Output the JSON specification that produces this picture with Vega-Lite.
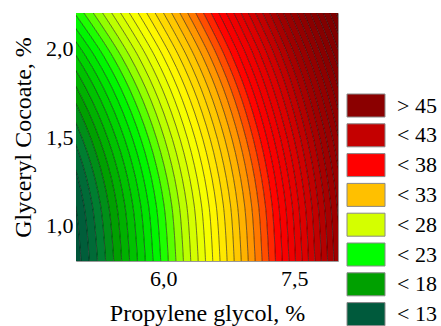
{
 "$schema": "https://vega.github.io/schema/vega-lite/v6.json",
 "width": 262,
 "height": 248,
 "autosize": {"type": "none"},
 "padding": {"left": 76, "top": 13, "right": 103, "bottom": 65},
 "background": "white",
 "config": {
  "view": {"stroke": "#999999", "strokeWidth": 1},
  "font": "Liberation Serif",
  "legend": {"labelFont": "Liberation Serif"},
  "axis": {"labelFont": "Liberation Serif", "titleFont": "Liberation Serif", "labelColor": "black", "titleColor": "black", "titleFontWeight": "normal", "ticks": false, "domain": false, "grid": false}
 },
 "datasets": {
  "cats": [{"cat": "> 45"}, {"cat": "< 43"}, {"cat": "< 38"}, {"cat": "< 33"}, {"cat": "< 28"}, {"cat": "< 23"}, {"cat": "< 18"}, {"cat": "< 13"}],
  "lines": [
   {"v":11,"y":0.8,"x":3.5},{"v":11,"y":1.116,"x":3.5},{"v":11,"y":1.411,"x":3.5},{"v":11,"y":1.707,"x":3.5},{"v":11,"y":1.953,"x":3.5},{"v":11,"y":2.2,"x":3.5},
   {"v":12,"y":0.8,"x":5.057},{"v":12,"y":1.116,"x":4.994},{"v":12,"y":1.411,"x":4.833},{"v":12,"y":1.707,"x":4.555},{"v":12,"y":1.953,"x":4.212},{"v":12,"y":2.2,"x":3.724},
   {"v":13,"y":0.8,"x":5.152},{"v":13,"y":1.116,"x":5.091},{"v":13,"y":1.411,"x":4.934},{"v":13,"y":1.707,"x":4.663},{"v":13,"y":1.953,"x":4.334},{"v":13,"y":2.2,"x":3.869},
   {"v":14,"y":0.8,"x":5.246},{"v":14,"y":1.116,"x":5.187},{"v":14,"y":1.411,"x":5.033},{"v":14,"y":1.707,"x":4.771},{"v":14,"y":1.953,"x":4.452},{"v":14,"y":2.2,"x":4.007},
   {"v":15,"y":0.8,"x":5.339},{"v":15,"y":1.116,"x":5.281},{"v":15,"y":1.411,"x":5.131},{"v":15,"y":1.707,"x":4.876},{"v":15,"y":1.953,"x":4.567},{"v":15,"y":2.2,"x":4.140},
   {"v":16,"y":0.8,"x":5.432},{"v":16,"y":1.116,"x":5.374},{"v":16,"y":1.411,"x":5.228},{"v":16,"y":1.707,"x":4.981},{"v":16,"y":1.953,"x":4.681},{"v":16,"y":2.2,"x":4.270},
   {"v":17,"y":0.8,"x":5.523},{"v":17,"y":1.116,"x":5.467},{"v":17,"y":1.411,"x":5.324},{"v":17,"y":1.707,"x":5.082},{"v":17,"y":1.953,"x":4.792},{"v":17,"y":2.2,"x":4.395},
   {"v":18,"y":0.8,"x":5.614},{"v":18,"y":1.116,"x":5.559},{"v":18,"y":1.411,"x":5.419},{"v":18,"y":1.707,"x":5.183},{"v":18,"y":1.953,"x":4.900},{"v":18,"y":2.2,"x":4.518},
   {"v":19,"y":0.8,"x":5.704},{"v":19,"y":1.116,"x":5.650},{"v":19,"y":1.411,"x":5.514},{"v":19,"y":1.707,"x":5.284},{"v":19,"y":1.953,"x":5.009},{"v":19,"y":2.2,"x":4.638},
   {"v":20,"y":0.8,"x":5.794},{"v":20,"y":1.116,"x":5.741},{"v":20,"y":1.411,"x":5.607},{"v":20,"y":1.707,"x":5.382},{"v":20,"y":1.953,"x":5.115},{"v":20,"y":2.2,"x":4.755},
   {"v":21,"y":0.8,"x":5.882},{"v":21,"y":1.116,"x":5.830},{"v":21,"y":1.411,"x":5.698},{"v":21,"y":1.707,"x":5.479},{"v":21,"y":1.953,"x":5.218},{"v":21,"y":2.2,"x":4.868},
   {"v":22,"y":0.8,"x":5.970},{"v":22,"y":1.116,"x":5.919},{"v":22,"y":1.411,"x":5.791},{"v":22,"y":1.707,"x":5.575},{"v":22,"y":1.953,"x":5.321},{"v":22,"y":2.2,"x":4.981},
   {"v":23,"y":0.8,"x":6.057},{"v":23,"y":1.116,"x":6.008},{"v":23,"y":1.411,"x":5.881},{"v":23,"y":1.707,"x":5.670},{"v":23,"y":1.953,"x":5.421},{"v":23,"y":2.2,"x":5.090},
   {"v":24,"y":0.8,"x":6.144},{"v":24,"y":1.116,"x":6.096},{"v":24,"y":1.411,"x":5.971},{"v":24,"y":1.707,"x":5.765},{"v":24,"y":1.953,"x":5.521},{"v":24,"y":2.2,"x":5.198},
   {"v":25,"y":0.8,"x":6.230},{"v":25,"y":1.116,"x":6.182},{"v":25,"y":1.411,"x":6.060},{"v":25,"y":1.707,"x":5.858},{"v":25,"y":1.953,"x":5.619},{"v":25,"y":2.2,"x":5.305},
   {"v":26,"y":0.8,"x":6.314},{"v":26,"y":1.116,"x":6.268},{"v":26,"y":1.411,"x":6.148},{"v":26,"y":1.707,"x":5.949},{"v":26,"y":1.953,"x":5.716},{"v":26,"y":2.2,"x":5.409},
   {"v":27,"y":0.8,"x":6.399},{"v":27,"y":1.116,"x":6.353},{"v":27,"y":1.411,"x":6.235},{"v":27,"y":1.707,"x":6.040},{"v":27,"y":1.953,"x":5.812},{"v":27,"y":2.2,"x":5.511},
   {"v":28,"y":0.8,"x":6.483},{"v":28,"y":1.116,"x":6.437},{"v":28,"y":1.411,"x":6.321},{"v":28,"y":1.707,"x":6.130},{"v":28,"y":1.953,"x":5.906},{"v":28,"y":2.2,"x":5.611},
   {"v":29,"y":0.8,"x":6.566},{"v":29,"y":1.116,"x":6.522},{"v":29,"y":1.411,"x":6.408},{"v":29,"y":1.707,"x":6.219},{"v":29,"y":1.953,"x":6.000},{"v":29,"y":2.2,"x":5.712},
   {"v":30,"y":0.8,"x":6.649},{"v":30,"y":1.116,"x":6.605},{"v":30,"y":1.411,"x":6.493},{"v":30,"y":1.707,"x":6.308},{"v":30,"y":1.953,"x":6.091},{"v":30,"y":2.2,"x":5.810},
   {"v":31,"y":0.8,"x":6.730},{"v":31,"y":1.116,"x":6.687},{"v":31,"y":1.411,"x":6.577},{"v":31,"y":1.707,"x":6.395},{"v":31,"y":1.953,"x":6.182},{"v":31,"y":2.2,"x":5.906},
   {"v":32,"y":0.8,"x":6.811},{"v":32,"y":1.116,"x":6.769},{"v":32,"y":1.411,"x":6.660},{"v":32,"y":1.707,"x":6.481},{"v":32,"y":1.953,"x":6.272},{"v":32,"y":2.2,"x":6.002},
   {"v":33,"y":0.8,"x":6.892},{"v":33,"y":1.116,"x":6.849},{"v":33,"y":1.411,"x":6.743},{"v":33,"y":1.707,"x":6.566},{"v":33,"y":1.953,"x":6.360},{"v":33,"y":2.2,"x":6.095},
   {"v":34,"y":0.8,"x":6.972},{"v":34,"y":1.116,"x":6.930},{"v":34,"y":1.411,"x":6.825},{"v":34,"y":1.707,"x":6.651},{"v":34,"y":1.953,"x":6.450},{"v":34,"y":2.2,"x":6.189},
   {"v":35,"y":0.8,"x":7.051},{"v":35,"y":1.116,"x":7.010},{"v":35,"y":1.411,"x":6.906},{"v":35,"y":1.707,"x":6.735},{"v":35,"y":1.953,"x":6.536},{"v":35,"y":2.2,"x":6.279},
   {"v":36,"y":0.8,"x":7.130},{"v":36,"y":1.116,"x":7.090},{"v":36,"y":1.411,"x":6.987},{"v":36,"y":1.707,"x":6.818},{"v":36,"y":1.953,"x":6.622},{"v":36,"y":2.2,"x":6.371},
   {"v":37,"y":0.8,"x":7.208},{"v":37,"y":1.116,"x":7.168},{"v":37,"y":1.411,"x":7.067},{"v":37,"y":1.707,"x":6.901},{"v":37,"y":1.953,"x":6.707},{"v":37,"y":2.2,"x":6.460},
   {"v":38,"y":0.8,"x":7.284},{"v":38,"y":1.116,"x":7.245},{"v":38,"y":1.411,"x":7.146},{"v":38,"y":1.707,"x":6.981},{"v":38,"y":1.953,"x":6.791},{"v":38,"y":2.2,"x":6.547},
   {"v":39,"y":0.8,"x":7.361},{"v":39,"y":1.116,"x":7.322},{"v":39,"y":1.411,"x":7.224},{"v":39,"y":1.707,"x":7.062},{"v":39,"y":1.953,"x":6.874},{"v":39,"y":2.2,"x":6.635},
   {"v":40,"y":0.8,"x":7.438},{"v":40,"y":1.116,"x":7.400},{"v":40,"y":1.411,"x":7.303},{"v":40,"y":1.707,"x":7.142},{"v":40,"y":1.953,"x":6.958},{"v":40,"y":2.2,"x":6.722},
   {"v":41,"y":0.8,"x":7.513},{"v":41,"y":1.116,"x":7.476},{"v":41,"y":1.411,"x":7.379},{"v":41,"y":1.707,"x":7.221},{"v":41,"y":1.953,"x":7.041},{"v":41,"y":2.2,"x":6.807},
   {"v":42,"y":0.8,"x":7.588},{"v":42,"y":1.116,"x":7.550},{"v":42,"y":1.411,"x":7.456},{"v":42,"y":1.707,"x":7.300},{"v":42,"y":1.953,"x":7.121},{"v":42,"y":2.2,"x":6.890},
   {"v":43,"y":0.8,"x":7.662},{"v":43,"y":1.116,"x":7.626},{"v":43,"y":1.411,"x":7.532},{"v":43,"y":1.707,"x":7.378},{"v":43,"y":1.953,"x":7.201},{"v":43,"y":2.2,"x":6.974},
   {"v":44,"y":0.8,"x":7.735},{"v":44,"y":1.116,"x":7.699},{"v":44,"y":1.411,"x":7.606},{"v":44,"y":1.707,"x":7.455},{"v":44,"y":1.953,"x":7.280},{"v":44,"y":2.2,"x":7.056},
   {"v":45,"y":0.8,"x":7.809},{"v":45,"y":1.116,"x":7.773},{"v":45,"y":1.411,"x":7.681},{"v":45,"y":1.707,"x":7.530},{"v":45,"y":1.953,"x":7.359},{"v":45,"y":2.2,"x":7.138},
   {"v":46,"y":0.8,"x":7.881},{"v":46,"y":1.116,"x":7.845},{"v":46,"y":1.411,"x":7.755},{"v":46,"y":1.707,"x":7.606},{"v":46,"y":1.953,"x":7.435},{"v":46,"y":2.2,"x":7.218},
   {"v":47,"y":0.8,"x":7.953},{"v":47,"y":1.116,"x":7.917},{"v":47,"y":1.411,"x":7.828},{"v":47,"y":1.707,"x":7.682},{"v":47,"y":1.953,"x":7.513},{"v":47,"y":2.2,"x":7.298},
   {"v":48,"y":0.8,"x":8.024},{"v":48,"y":1.116,"x":7.989},{"v":48,"y":1.411,"x":7.900},{"v":48,"y":1.707,"x":7.755},{"v":48,"y":1.953,"x":7.589},{"v":48,"y":2.2,"x":7.377},
   {"v":49,"y":0.8,"x":8.095},{"v":49,"y":1.116,"x":8.061},{"v":49,"y":1.411,"x":7.972},{"v":49,"y":1.707,"x":7.829},{"v":49,"y":1.953,"x":7.664},{"v":49,"y":2.2,"x":7.455},
   {"v":50,"y":0.8,"x":8.165},{"v":50,"y":1.116,"x":8.131},{"v":50,"y":1.411,"x":8.043},{"v":50,"y":1.707,"x":7.902},{"v":50,"y":1.953,"x":7.739},{"v":50,"y":2.2,"x":7.533},
   {"v":51,"y":0.8,"x":8.235},{"v":51,"y":1.116,"x":8.200},{"v":51,"y":1.411,"x":8.115},{"v":51,"y":1.707,"x":7.975},{"v":51,"y":1.953,"x":7.813},{"v":51,"y":2.2,"x":7.609},
   {"v":52,"y":0.8,"x":8.303},{"v":52,"y":1.116,"x":8.270},{"v":52,"y":1.411,"x":8.185},{"v":52,"y":1.707,"x":8.046},{"v":52,"y":1.953,"x":7.887},{"v":52,"y":2.2,"x":7.684},
   {"v":53,"y":0.8,"x":8.372},{"v":53,"y":1.116,"x":8.339},{"v":53,"y":1.411,"x":8.255},{"v":53,"y":1.707,"x":8.117},{"v":53,"y":1.953,"x":7.960},{"v":53,"y":2.2,"x":7.759},
   {"v":54,"y":0.8,"x":8.440},{"v":54,"y":1.116,"x":8.406},{"v":54,"y":1.411,"x":8.323},{"v":54,"y":1.707,"x":8.188},{"v":54,"y":1.953,"x":8.031},{"v":54,"y":2.2,"x":7.834},
   {"v":55,"y":0.8,"x":8.507},{"v":55,"y":1.116,"x":8.475},{"v":55,"y":1.411,"x":8.392},{"v":55,"y":1.707,"x":8.258},{"v":55,"y":1.953,"x":8.103},{"v":55,"y":2.2,"x":7.907},
   {"v":56,"y":0.8,"x":8.574},{"v":56,"y":1.116,"x":8.542},{"v":56,"y":1.411,"x":8.459},{"v":56,"y":1.707,"x":8.326},{"v":56,"y":1.953,"x":8.173},{"v":56,"y":2.2,"x":7.979},
   {"v":57,"y":0.8,"x":8.640},{"v":57,"y":1.116,"x":8.608},{"v":57,"y":1.411,"x":8.527},{"v":57,"y":1.707,"x":8.395},{"v":57,"y":1.953,"x":8.244},{"v":57,"y":2.2,"x":8.051},
   {"v":58,"y":0.8,"x":9.5},{"v":58,"y":1.116,"x":9.5},{"v":58,"y":1.411,"x":9.5},{"v":58,"y":1.707,"x":9.5},{"v":58,"y":1.953,"x":9.5},{"v":58,"y":2.2,"x":9.5}
  ]
 },
 "layer": [
  {
   "data": {"name": "lines"},
   "transform": [
    {"window": [{"op": "lead", "field": "x", "as": "x2"}], "groupby": ["y"], "sort": [{"field": "v", "order": "ascending"}]},
    {"filter": "datum.x2 != null"}
   ],
   "mark": {"type": "area", "orient": "horizontal", "interpolate": "catmull-rom", "clip": true},
   "encoding": {
    "y": {"field": "y", "type": "quantitative", "scale": {"domain": [0.8, 2.2], "nice": false, "zero": false},
      "axis": {"title": "Glyceryl Cocoate, %", "values": [1, 1.5, 2], "labelExpr": "replace(format(datum.value, '.1f'), '.', ',')", "labelFontSize": 22, "labelPadding": 3, "titleFontSize": 24, "titleBaseline": "alphabetic", "titleX": -46, "titleY": 124}},
    "x": {"field": "x", "type": "quantitative", "stack": null, "scale": {"domain": [5, 8], "nice": false, "zero": false},
      "axis": {"title": "Propylene glycol, %", "values": [6, 7.5], "labelExpr": "replace(format(datum.value, '.1f'), '.', ',')", "labelFontSize": 22, "labelPadding": 7, "titleFontSize": 24, "titleBaseline": "alphabetic", "titleY": 59}},
    "x2": {"field": "x2"},
    "detail": {"field": "v", "type": "nominal"},
    "color": {"field": "v", "type": "quantitative", "legend": null,
      "scale": {"interpolate": "rgb",
        "domain": [10.5, 12.5, 14, 16, 18.8, 21.5, 24.5, 26.5, 28.5, 30.5, 32.5, 34.8, 36.7, 38.1, 41.7, 46.5, 51.5, 56.5],
        "range": ["#00503a", "#00623a", "#007e30", "#00a000", "#00d000", "#00ff00", "#b0ff00", "#e0ff00", "#ffff00", "#ffe000", "#ffc000", "#ff8000", "#ff3000", "#ff0000", "#e00000", "#a00000", "#880000", "#780000"]}}
   }
  },
  {
   "data": {"name": "lines"},
   "transform": [{"filter": "datum.v >= 12 && datum.v <= 57"}],
   "mark": {"type": "line", "interpolate": "catmull-rom", "clip": true, "color": "black", "strokeWidth": 0.7, "opacity": 0.75},
   "encoding": {
    "x": {"field": "x", "type": "quantitative"},
    "y": {"field": "y", "type": "quantitative"},
    "detail": {"field": "v", "type": "nominal"},
    "order": {"field": "y", "type": "quantitative"}
   }
  },
  {
   "data": {"name": "cats"},
   "mark": {"type": "square", "size": 0},
   "encoding": {
    "color": {"field": "cat", "type": "nominal",
      "scale": {"domain": ["> 45", "< 43", "< 38", "< 33", "< 28", "< 23", "< 18", "< 13"], "range": ["#8b0000", "#c40000", "#ff0000", "#ffc000", "#d4ff00", "#00ff00", "#00a000", "#005a3c"]},
      "legend": {"title": null, "orient": "none", "legendX": 279, "legendY": 81.5, "padding": 0, "symbolType": "M-3.8,-2.3H3.8V2.3H-3.8Z", "symbolSize": 100, "symbolStrokeColor": "#888888", "symbolStrokeWidth": 1, "symbolOpacity": 1, "labelFont": "Liberation Serif", "labelFontSize": 22, "labelColor": "black", "labelOffset": 20, "rowPadding": 1.8, "labelLimit": 200}}
   }
  }
 ],
 "resolve": {"scale": {"color": "independent"}}
}
